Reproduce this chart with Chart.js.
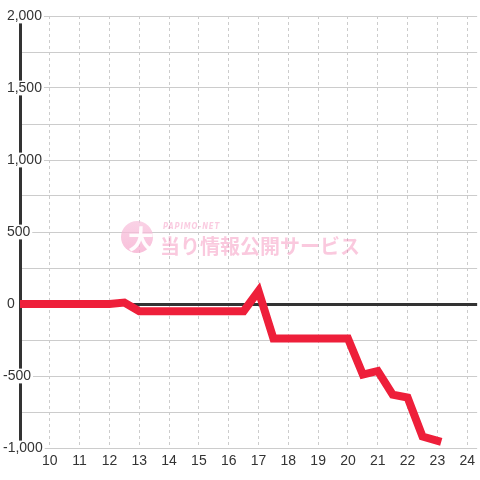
<!DOCTYPE html>
<html>
<head>
<meta charset="utf-8">
<script src="https://cdn.jsdelivr.net/npm/chart.js@4"></script>
<style>
html,body{margin:0;padding:0;background:#ffffff;}
#wrap{width:480px;height:480px;}
</style>
</head>
<body>
<div id="wrap"><canvas id="c" width="480" height="480"></canvas></div>
<script>
// Hours (x) and balance values (y)
const hours = [9, 9.5, 10, 10.5, 11, 11.5, 12, 12.5, 13, 13.5, 14, 14.5, 15, 15.5, 16, 16.5, 17, 17.5, 18, 18.5, 19, 19.5, 20, 20.5, 21, 21.5, 22, 22.5, 23];
const values = [0, 0, 0, 0, 0, 0, 0, 10, -50, -50, -50, -50, -50, -50, -50, -50, 90, -240, -240, -240, -240, -240, -240, -490, -465, -630, -650, -920, -950];
const xTickLabels = [10, 11, 12, 13, 14, 15, 16, 17, 18, 19, 20, 21, 22, 23, 24];
const yLabelValues = [-1000, -500, 0, 500, 1000, 1500, 2000];
const watermarkBrand = 'PAPIMO-NET';
const watermarkText = '当り情報公開サービス';
const watermarkLogo = '大';

const points = hours.map((h, i) => ({x: h, y: values[i]}));

const watermarkPlugin = {
  id: 'watermark',
  beforeDatasetsDraw(chart) {
    const ctx = chart.ctx;
    ctx.save();
    const g = ctx.createLinearGradient(0, 221, 0, 253);
    g.addColorStop(0, 'rgba(248,196,222,0.75)');
    g.addColorStop(1, 'rgba(246,170,205,0.75)');
    ctx.fillStyle = g;
    ctx.beginPath();
    ctx.arc(137, 237, 16, 0, Math.PI * 2);
    ctx.fill();
    ctx.fillStyle = 'rgba(255,255,255,0.95)';
    ctx.font = 'bold 26px "Noto Sans CJK JP"';
    ctx.textAlign = 'center';
    ctx.textBaseline = 'middle';
    ctx.fillText(watermarkLogo, 141, 239);
    ctx.fillStyle = 'rgba(240,110,170,0.35)';
    ctx.font = 'italic bold 9px "DejaVu Sans"';
    ctx.textAlign = 'left';
    ctx.textBaseline = 'middle';
    try { ctx.letterSpacing = '1px'; } catch (e) {}
    ctx.fillText(watermarkBrand, 163, 227, 57);
    try { ctx.letterSpacing = '0px'; } catch (e) {}
    ctx.fillStyle = 'rgba(240,100,160,0.35)';
    ctx.font = 'bold 20px "Noto Sans CJK JP"';
    ctx.fillText(watermarkText, 160, 246, 200);
    ctx.restore();
  }
};

new Chart(document.getElementById('c'), {
  type: 'line',
  data: {
    datasets: [{
      data: points,
      borderColor: '#ee1f3a',
      borderWidth: 8,
      borderCapStyle: 'square',
      borderJoinStyle: 'miter',
      pointRadius: 0,
      tension: 0,
      fill: false
    }]
  },
  options: {
    responsive: false,
    animation: false,
    devicePixelRatio: 1,
    layout: {padding: {left: 3, top: 16, right: 0, bottom: 0}},
    plugins: {legend: {display: false}, tooltip: {enabled: false}},
    scales: {
      x: {
        type: 'linear',
        position: 'bottom',
        min: 9,
        max: 9 + 460 / 30,
        afterFit(scale) { scale.height = 32; },
        ticks: {
          stepSize: 1,
          includeBounds: false,
          autoSkip: false,
          maxRotation: 0,
          padding: 5,
          color: '#333',
          font: {family: '"Liberation Sans", Arial, sans-serif', size: 14},
          callback: (v) => xTickLabels.includes(v) ? String(v) : ''
        },
        grid: {color: '#cccccc', lineWidth: 1, drawTicks: false},
        border: {display: false, dash: [3, 3]}
      },
      y: {
        min: -1000,
        max: 2000,
        afterFit(scale) { scale.width = 17; },
        ticks: {
          stepSize: 250,
          mirror: true,
          crossAlign: 'near',
          padding: -17,
          color: '#333',
          font: {family: '"Liberation Sans", Arial, sans-serif', size: 14},
          showLabelBackdrop: true,
          backdropColor: (ctx) => (ctx.tick && yLabelValues.includes(ctx.tick.value)) ? '#ffffff' : 'rgba(0,0,0,0)',
          backdropPadding: {left: 2, right: 2, top: -1, bottom: -1},
          callback: (v) => yLabelValues.includes(v) ? ((v < 0 ? '' : ' ') + v.toLocaleString('en-US')) : ''
        },
        grid: {
          drawTicks: false,
          color: (ctx) => (ctx.tick && ctx.tick.value === 0) ? '#333333' : '#cccccc',
          lineWidth: (ctx) => (ctx.tick && ctx.tick.value === 0) ? 3 : 1
        },
        border: {display: true, color: '#333333', width: 3}
      }
    }
  },
  plugins: [watermarkPlugin]
});
</script>
</body>
</html>
